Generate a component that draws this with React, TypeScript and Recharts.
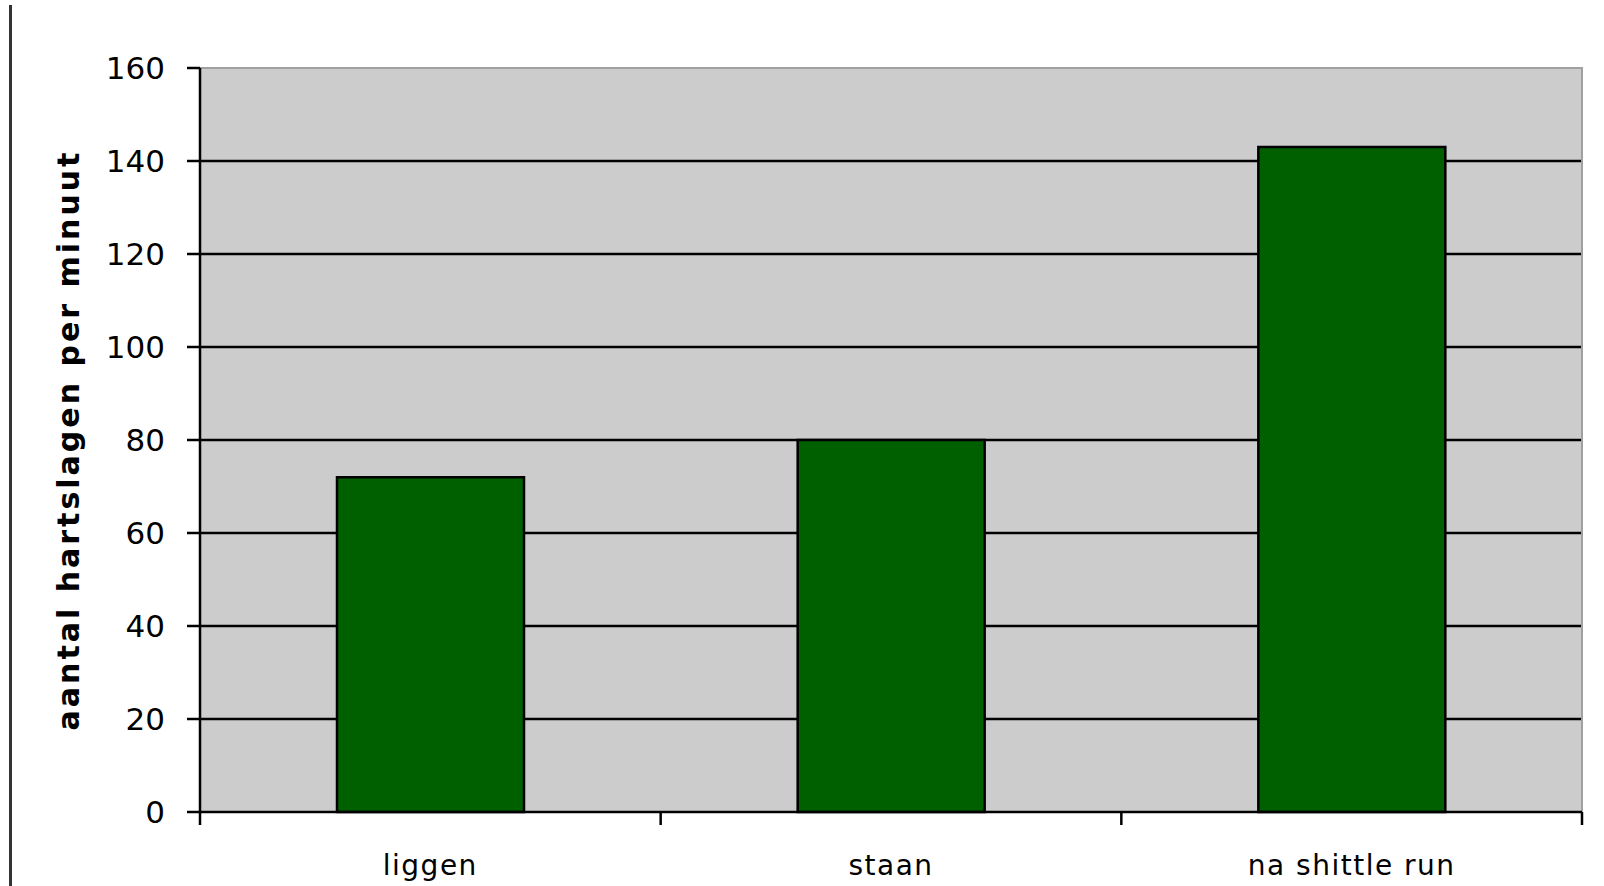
import { Bar, BarChart, CartesianGrid, ReferenceArea, XAxis, YAxis } from "recharts";

const categories = ["liggen", "staan", "na shittle run"];
const heartRates = [72, 80, 143];
const yTicks = [0, 20, 40, 60, 80, 100, 120, 140, 160];

const data = categories.map((name, i) => ({ name, hr: heartRates[i] }));

const FONT = "'DejaVu Sans', Geneva, sans-serif";
const W = 1604;
const H = 886;
const PLOT_LEFT = 200;
const PLOT_RIGHT = 1582;
const HALF_BAND = (PLOT_RIGHT - PLOT_LEFT) / categories.length / 2;

function CategoryTick(props: any) {
  const { x, y, payload, index } = props;
  const top = y - 8;
  return (
    <g>
      <line x1={x - HALF_BAND} x2={x - HALF_BAND} y1={top} y2={top + 13} stroke="#000" strokeWidth={2.5} />
      {index === categories.length - 1 && (
        <line x1={x + HALF_BAND} x2={x + HALF_BAND} y1={top} y2={top + 13} stroke="#000" strokeWidth={2.5} />
      )}
      <text
        x={x}
        y={top + 63}
        textAnchor="middle"
        fontSize={28}
        fontFamily={FONT}
        letterSpacing={1.5}
        fill="#000"
      >
        {payload.value}
      </text>
    </g>
  );
}

export default function App() {
  return (
    <div style={{ position: "absolute", left: 0, top: 0, width: W, height: H, background: "#fff", overflow: "hidden" }}>
      <div style={{ position: "absolute", left: 9, top: 5, width: 3, height: H, background: "#333" }} />
      <BarChart
        width={W}
        height={H}
        data={data}
        margin={{ top: 68, right: W - PLOT_RIGHT, bottom: 14, left: 0 }}
      >
        <CartesianGrid
          vertical={false}
          horizontalValues={[20, 40, 60, 80, 100, 120, 140]}
          stroke="#000"
          strokeWidth={2.5}
          fill="#cccccc"
          fillOpacity={1}
        />
        <ReferenceArea y1={0} y2={160} fill="none" stroke="#a0a0a0" strokeWidth={2} />
        <XAxis
          dataKey="name"
          height={60}
          tickLine={false}
          axisLine={{ stroke: "#000", strokeWidth: 2.5 }}
          tick={<CategoryTick />}
          interval={0}
        />
        <YAxis
          width={PLOT_LEFT}
          domain={[0, 160]}
          ticks={yTicks}
          interval={0}
          tickSize={13}
          tickMargin={22}
          tickLine={{ stroke: "#000", strokeWidth: 2.5 }}
          axisLine={{ stroke: "#000", strokeWidth: 2.5 }}
          tick={{ fontSize: 31, fontFamily: FONT, fill: "#000" }}
          label={{
            value: "aantal hartslagen per minuut",
            angle: -90,
            position: "center",
            dx: -32,
            style: { fontSize: 30, fontWeight: "bold", fontFamily: FONT, fill: "#000", letterSpacing: 3 },
          }}
        />
        <Bar dataKey="hr" barSize={187} fill="#006000" stroke="#000" strokeWidth={2.5} isAnimationActive={false} />
      </BarChart>
    </div>
  );
}
